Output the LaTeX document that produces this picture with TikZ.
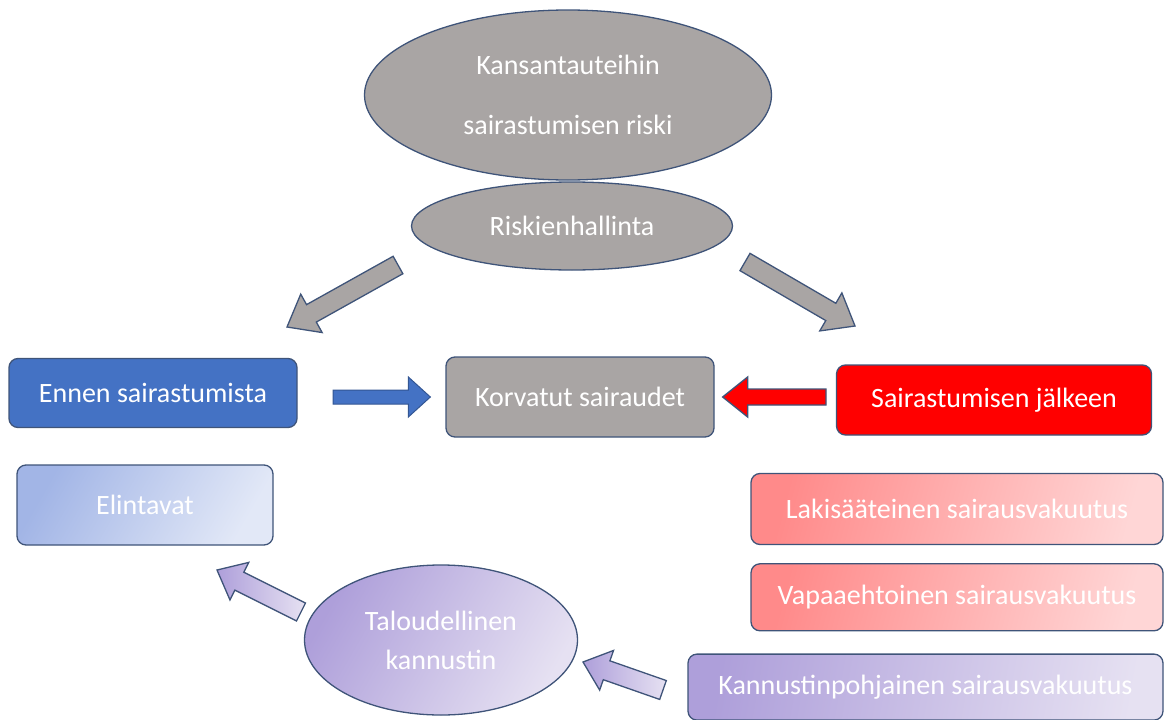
\documentclass[tikz,border=0pt]{standalone}
\usepackage{fontspec}
\setmainfont{Carlito}
\usetikzlibrary{positioning,shapes.geometric,calc}
\definecolor{RiskGray}{HTML}{A9A5A4}
\definecolor{RiskEdge}{HTML}{3F5479}
\definecolor{RiskBlue}{HTML}{4472C4}
\definecolor{RiskRed}{HTML}{FF0000}
\definecolor{RiskPink}{HTML}{FF8A8A}
\definecolor{RiskPinkLight}{HTML}{FFD6D6}
\definecolor{RiskLilac}{HTML}{AE9FDA}
\definecolor{RiskLilacLight}{HTML}{E6E1F2}
\definecolor{RiskSky}{HTML}{A2B5E6}
\definecolor{RiskSkyLight}{HTML}{E2E8F7}
\tikzset{
  box/.style={draw=RiskEdge,line width=1.3pt,rounded corners=9pt,text=white,align=center,
    inner sep=0pt,font=\fontsize{28}{34}\selectfont},
  graybox/.style={box,fill=RiskGray},
  bluebox/.style={box,fill=RiskBlue},
  redbox/.style={box,fill=RiskRed},
  skybox/.style={box,left color=RiskSky,right color=RiskSkyLight,shading angle=60},
  pinkbox/.style={box,left color=RiskPink,right color=RiskPinkLight,shading angle=75},
  lilacbox/.style={box,left color=RiskLilac,right color=RiskLilacLight,shading angle=80},
  oval/.style={ellipse,draw=RiskEdge,line width=1.3pt,fill=RiskGray,text=white,align=center,
    inner sep=0pt,font=\fontsize{28}{34}\selectfont},
  graybolt/.style={fill=RiskGray,draw=RiskEdge,line width=1.3pt},
  bluebolt/.style={fill=RiskBlue,draw=RiskBlue!75!black,line width=1pt},
  redbolt/.style={fill=RiskRed,draw=RiskEdge,line width=1.3pt},
  lilacbolt/.style={left color=RiskLilac,right color=RiskLilacLight,draw=RiskEdge,line width=1.3pt}
}
% block arrow: style, from, to, half shaft, half head, head length
\newcommand{\blockarrow}[6]{%
  \coordinate (neck) at ($(#3)!#6!(#2)$);
  \draw[#1] ($(#2)!#4!90:(#3)$) -- ($(neck)!#4!90:(#3)$) -- ($(neck)!#5!90:(#3)$) -- (#3)
    -- ($(neck)!#5!-90:(#3)$) -- ($(neck)!#4!-90:(#3)$) -- ($(#2)!#4!-90:(#3)$) -- cycle;}

\begin{document}
\begin{tikzpicture}[x=1pt,y=-1pt]
  \useasboundingbox (0,0) rectangle (1165,720);
  % top: risk and its management
  \node[oval,minimum width=407pt,minimum height=170pt,font=\fontsize{28}{60}\selectfont] (risk) at (568,95)
    {Kansantauteihin\\sairastumisen riski};
  \node[oval,minimum width=321pt,minimum height=88pt] (hallinta) at (572,226) {Riskienhallinta};
  % middle row
  \node[bluebox,minimum width=288pt,minimum height=69pt] (ennen) at (153,393) {Ennen sairastumista};
  \node[graybox,minimum width=268pt,minimum height=80pt] (korvatut) at (580,397) {Korvatut sairaudet};
  \node[redbox,minimum width=315pt,minimum height=70pt] (jalkeen) at (994,400) {Sairastumisen jälkeen};
  % lower left
  \node[skybox,minimum width=256pt,minimum height=80pt] (elintavat) at (145,505) {Elintavat};
  \node[oval,left color=RiskLilac,right color=RiskLilacLight,shading angle=60,
    minimum width=273pt,minimum height=150pt,font=\fontsize{28}{39}\selectfont] (talous) at (441,640)
    {Taloudellinen\\kannustin};
  % lower right: insurances
  \node[pinkbox,minimum width=412pt,minimum height=71pt] (laki) at (957,509) {Lakisääteinen sairausvakuutus};
  \node[pinkbox,minimum width=412pt,minimum height=67pt,below=18pt of laki] (vapaa) {Vapaaehtoinen sairausvakuutus};
  \node[lilacbox,minimum width=475pt,minimum height=66pt,anchor=north east] (kannustin)
    at ([yshift=-22pt]vapaa.south east) {Kannustinpohjainen sairausvakuutus};

  % arrows
  \coordinate (gl1) at (398,265); \coordinate (gl2) at (287,327);
  \coordinate (gr1) at (745,262); \coordinate (gr2) at (855,326);
  \coordinate (bl1) at (333,397); \coordinate (bl2) at ([xshift=-15pt]korvatut.west);
  \coordinate (rd1) at (826,397); \coordinate (rd2) at ([xshift=8pt]korvatut.east);
  \coordinate (lt1) at (301,612); \coordinate (lt2) at (217,570);
  \coordinate (kt1) at (663,690); \coordinate (kt2) at (583,662);
  \blockarrow{graybolt}{gl1}{gl2}{10pt}{22pt}{28pt}
  \blockarrow{graybolt}{gr1}{gr2}{10pt}{22pt}{28pt}
  \blockarrow{bluebolt}{bl1}{bl2}{7pt}{20pt}{22pt}
  \blockarrow{redbolt}{rd1}{rd2}{8pt}{20pt}{25pt}
  \blockarrow{lilacbolt}{lt1}{lt2}{10pt}{21pt}{25pt}
  \blockarrow{lilacbolt}{kt1}{kt2}{10pt}{21pt}{25pt}
\end{tikzpicture}
\end{document}
